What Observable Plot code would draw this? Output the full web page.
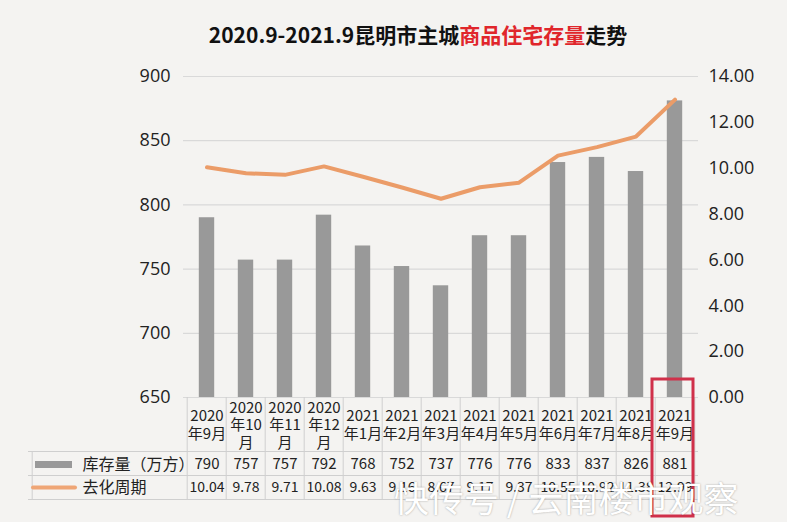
<!DOCTYPE html>
<html><head><meta charset="utf-8">
<script src="https://cdn.jsdelivr.net/npm/d3@7"></script>
<script src="https://cdn.jsdelivr.net/npm/@observablehq/plot@0.6"></script>
<style>
body{margin:0;background:#f4f3f1;font-family:"Noto Sans CJK SC","Open Sans",sans-serif;}
#wrap{position:relative;width:787px;height:522px;overflow:hidden;background:#f4f3f1;}
#title{position:absolute;top:19px;left:0;width:836px;text-align:center;font-size:21px;font-weight:bold;color:#111;white-space:nowrap;}
#title .red{color:#e0262b;}
#chart{position:absolute;top:60px;left:0;}
#wm{position:absolute;left:394px;top:476px;font-size:35px;line-height:42px;color:#fff;white-space:nowrap;text-shadow:0 0 2px rgba(0,0,0,0.35);}
</style></head>
<body>
<div id="wrap">
  <div id="title"></div>
  <div id="chart"></div>
  <div id="wm"></div>
</div>
<script>
// ---- data ----
const titleParts = ["2020.9-2021.9昆明市主城", "商品住宅存量", "走势"];
const months = ["2020\n年9月","2020\n年10\n月","2020\n年11\n月","2020\n年12\n月","2021\n年1月","2021\n年2月","2021\n年3月","2021\n年4月","2021\n年5月","2021\n年6月","2021\n年7月","2021\n年8月","2021\n年9月"];
const stock = [790,757,757,792,768,752,737,776,776,833,837,826,881];
const cycle = [10.04,9.78,9.71,10.08,9.63,9.16,8.67,9.17,9.37,10.55,10.92,11.38,12.99];
const leftTicks = [650,700,750,800,850,900];
const rightTicks = [0,2,4,6,8,10,12,14];
const rowLabels = ["库存量（万方）","去化周期"];
const watermark = "快传号 / 云南楼市观察";

document.getElementById("title").innerHTML =
  titleParts[0] + '<span class="red">' + titleParts[1] + '</span>' + titleParts[2];
document.getElementById("wm").textContent = watermark;

// ---- layout ----
const W = 787, H = 462, mt = 16, mb = 125, ml = 183, mr = 89;
const frameH = H - mt - mb;
const frameW = W - ml - mr;
const bw = frameW / months.length;
const yMin = 650, yMax = 900, rMax = 14;
const toLeft = v => yMin + v * (yMax - yMin) / rMax;
const fromLeft = d => (d - yMin) * rMax / (yMax - yMin);

const data = months.map((m, i) => ({m, s: stock[i], c: cycle[i], sl: String(stock[i]), cl: cycle[i].toFixed(2)}));
const font = "'Open Sans','Noto Sans CJK SC',sans-serif";
const cjk = "'Noto Sans CJK SC',sans-serif";
const gray = "#999999", orange = "#eb9c68", line = "#cfcfcf";
const rowY = [67, 90];          // row text centres below frame bottom
const hLines = [54, 78, 102];   // table horizontal lines below frame bottom
const tableLeft = 28;

const plot = Plot.plot({
  width: W, height: H,
  marginTop: mt, marginBottom: mb, marginLeft: ml, marginRight: mr,
  style: {background: "transparent", fontFamily: font, overflow: "visible"},
  x: {domain: months, padding: 0, axis: null},
  y: {domain: [yMin, yMax], axis: null},
  marks: [
    Plot.gridY(leftTicks, {stroke: "#d9d9d9", strokeOpacity: 1, strokeWidth: 1.2}),
    Plot.axisY(leftTicks, {anchor: "left", tickSize: 0, tickPadding: 13, fontSize: 18, color: "#222", label: null}),
    Plot.axisY(rightTicks.map(toLeft), {anchor: "right", tickSize: 0, tickPadding: 10, fontSize: 18, color: "#222", label: null, tickFormat: d => fromLeft(d).toFixed(2)}),
    Plot.barY(data, {x: "m", y1: yMin, y2: "s", fill: gray, insetLeft: (bw - 16) / 2, insetRight: (bw - 16) / 2}),
    Plot.line(data, {x: "m", y: d => toLeft(d.c), stroke: orange, strokeWidth: 4, strokeLinejoin: "round", strokeLinecap: "round"}),
    // ---- table grid ----
    Plot.ruleX(months, {dx: -bw / 2, insetTop: frameH, insetBottom: -hLines[2], stroke: line}),
    Plot.ruleX(months.slice(-1), {dx: bw / 2, insetTop: frameH, insetBottom: -hLines[2], stroke: line}),
    Plot.ruleX(months.slice(0, 1), {dx: -bw / 2 - (ml - tableLeft), insetTop: frameH + hLines[0], insetBottom: -hLines[2], stroke: line}),
    ...hLines.map(h => Plot.ruleY([yMin], {dy: h, insetLeft: -(ml - tableLeft), stroke: line})),
    // ---- table text ----
    Plot.text(data, {x: "m", text: "m", frameAnchor: "bottom", dy: 27, lineAnchor: "middle", lineHeight: 1.17, fontSize: 15, fill: "#222", fontFamily: cjk}),
    Plot.text(data, {x: "m", text: "sl", frameAnchor: "bottom", dy: rowY[0], lineAnchor: "middle", fontSize: 15, fill: "#222", fontFamily: cjk}),
    Plot.text(data, {x: "m", text: "cl", frameAnchor: "bottom", dy: rowY[1], lineAnchor: "middle", fontSize: 14, fill: "#222", fontFamily: cjk}),
    // ---- legend column ----
    Plot.ruleY([yMin], {dy: rowY[0], insetLeft: -(ml - 35), insetRight: frameW + (ml - 72), stroke: gray, strokeWidth: 7}),
    Plot.ruleY([yMin], {dy: rowY[1], insetLeft: -(ml - 33), insetRight: frameW + (ml - 75), stroke: "#efa676", strokeWidth: 4, strokeLinecap: "round"}),
    Plot.text([rowLabels[0]], {frameAnchor: "bottom-left", dx: -(ml - 82), dy: rowY[0], text: d => d, textAnchor: "start", lineAnchor: "middle", fontSize: 16, fill: "#222", fontFamily: cjk}),
    Plot.text([rowLabels[1]], {frameAnchor: "bottom-left", dx: -(ml - 82), dy: rowY[1], text: d => d, textAnchor: "start", lineAnchor: "middle", fontSize: 16, fill: "#222", fontFamily: cjk}),
    // ---- highlight box on last month ----
    Plot.barY(months.slice(-1), {x: d => d, y1: yMin, y2: yMin, insetTop: -18, insetBottom: -119, insetLeft: -3, insetRight: 1, fill: "none", stroke: "#d0304a", strokeWidth: 3})
  ]
});
document.getElementById("chart").appendChild(plot);
</script>
</body></html>
